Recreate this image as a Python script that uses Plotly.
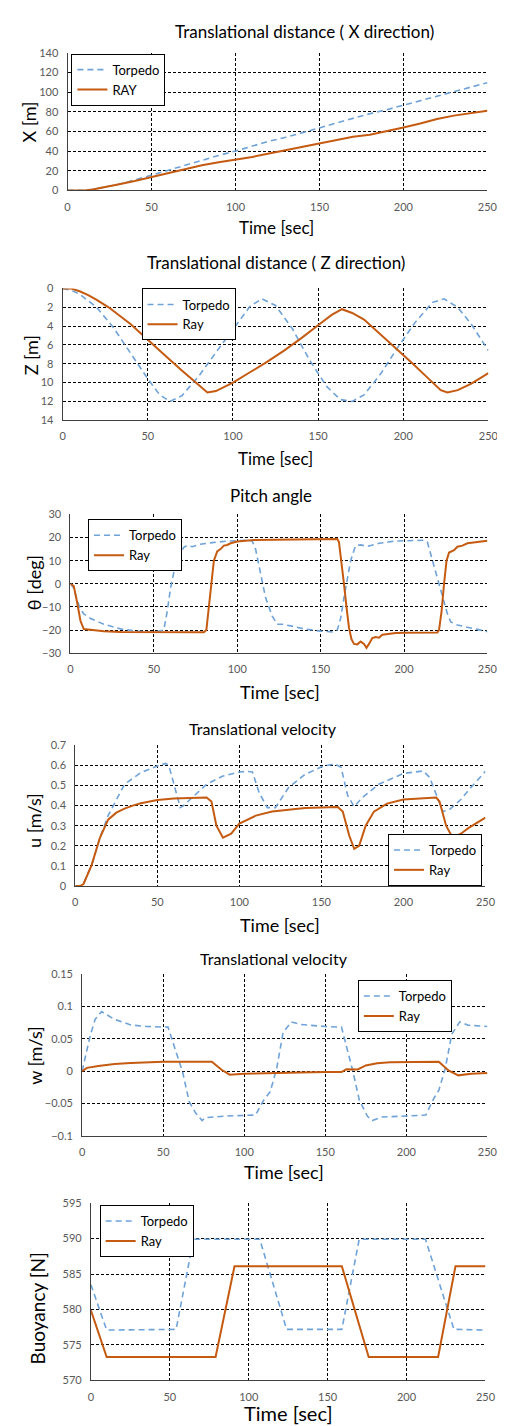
import plotly.graph_objects as go

# ---------------- data ----------------
# Panel 1: Translational distance X
t_x_torp = [0, 10, 15, 20, 30, 40, 50, 60, 70, 80, 90, 100, 110, 120, 130, 140, 150, 160, 170, 180, 190, 200, 210, 220, 230, 240, 250]
x_torp = [0, 0, 1, 2.5, 6, 10.5, 15.5, 21, 26, 31, 35.5, 40, 45, 50, 54, 58.5, 63.5, 68.5, 73.5, 78, 82, 86.5, 91, 96, 100, 104.5, 109.5]
t_x_ray = [0, 10, 15, 20, 30, 40, 50, 60, 70, 80, 90, 100, 110, 120, 130, 140, 150, 160, 170, 180, 190, 200, 210, 220, 230, 240, 250]
x_ray = [0, 0, 1, 2.5, 6, 9.5, 13.5, 17.5, 21.5, 25.5, 28.5, 31, 34, 37.5, 41, 44.5, 48, 51.5, 54.5, 56.5, 60, 64, 68, 72.5, 76, 78.5, 81]

# Panel 2: Translational distance Z
t_z_torp = [0, 5, 10, 20, 30, 40, 50, 57, 63, 70, 80, 90, 100, 110, 117, 125, 135, 145, 155, 163, 170, 177, 187, 197, 207, 217, 224, 232, 240, 250]
z_torp = [0, 0.2, 0.6, 2.0, 4.2, 6.9, 9.6, 11.3, 12.0, 11.4, 9.3, 6.8, 4.3, 1.9, 1.1, 1.8, 4.3, 7.6, 10.4, 11.8, 12.0, 11.3, 9.0, 6.2, 3.6, 1.5, 1.1, 2.0, 3.8, 6.6]
t_z_ray = [0, 5, 10, 15, 20, 27, 40, 50, 60, 70, 80, 85, 90, 100, 110, 120, 130, 140, 150, 158, 164, 170, 177, 185, 195, 205, 215, 222, 226, 232, 240, 250]
z_ray = [0, 0, 0.3, 0.7, 1.2, 2.0, 3.8, 5.5, 7.1, 8.7, 10.3, 11.05, 10.9, 10.0, 8.9, 7.8, 6.6, 5.3, 3.9, 2.8, 2.2, 2.6, 3.3, 4.6, 6.2, 7.9, 9.6, 10.8, 11.05, 10.8, 10.1, 9.0]

# Panel 3: Pitch angle
t_p_torp = [0, 2, 4, 6, 8, 12, 20, 30, 40, 50, 56, 58, 60, 62, 64, 66, 68, 70, 73, 77, 85, 95, 105, 109, 111, 113, 115, 117, 119, 121, 124, 127, 132, 140, 150, 157, 160, 162, 164, 166, 168, 171, 174, 178, 185, 195, 205, 212, 214, 216, 218, 220, 222, 224, 226, 228, 232, 236, 245, 250]
p_torp = [0, -2, -7, -11, -13, -15, -17.5, -19.5, -20.5, -21, -20, -12, -2, 5, 10, 13.5, 15.8, 16.6, 16.0, 17, 17.8, 18.5, 18.8, 18.5, 15, 8, 0, -6, -10, -14, -17.5, -17.5, -18.2, -19.5, -20.5, -20.8, -20, -15, -6, 3, 10, 16.5, 16.8, 16.2, 17.5, 18.5, 18.8, 18.8, 18, 13, 8, 3, -2, -8, -13, -16.5, -17.8, -18.5, -20, -20.7]
t_p_ray = [0, 2, 4, 6, 8, 10, 20, 30, 50, 80, 81.5, 83, 84.5, 86, 88, 90, 92, 94, 96, 100, 110, 130, 160, 161, 162.5, 164, 165.5, 167, 168.5, 170, 172, 174, 176, 177.5, 179, 181, 183, 185, 187, 190, 195, 200, 220, 221, 222.5, 224, 225.5, 227, 230, 232, 235, 238, 242, 246, 250]
p_ray = [0, -1, -8, -16, -19.6, -19.8, -20.5, -20.9, -21, -21, -20, -10, 2, 10, 14, 15, 16.5, 16.8, 17.5, 18.3, 18.9, 19.2, 19.4, 18, 10, 0, -10, -19, -24, -26, -26.2, -25, -26, -27.7, -26, -23.5, -23, -23.3, -22, -21.7, -21.3, -21.2, -21.1, -20, -12, 0, 10, 13.5, 14.5, 16, 16.5, 17.5, 17.8, 18.3, 18.6]

# Panel 4: Translational velocity u
t_u_torp = [0, 3, 5, 10, 15, 20, 30, 40, 50, 55, 57, 60, 64, 66, 70, 80, 90, 100, 105, 108, 112, 117, 122, 130, 140, 150, 158, 162, 166, 170, 175, 185, 200, 212, 216, 220, 224, 228, 235, 240, 250]
u_torp = [0, 0, 0.01, 0.105, 0.24, 0.35, 0.506, 0.564, 0.597, 0.61, 0.6, 0.51, 0.39, 0.4, 0.43, 0.506, 0.547, 0.567, 0.57, 0.567, 0.465, 0.39, 0.39, 0.49, 0.555, 0.593, 0.608, 0.59, 0.45, 0.395, 0.44, 0.506, 0.56, 0.572, 0.54, 0.45, 0.37, 0.38, 0.43, 0.48, 0.57]
t_u_ray = [0, 3, 5, 10, 15, 20, 25, 30, 35, 40, 50, 60, 70, 80, 83, 86, 90, 95, 100, 110, 120, 130, 140, 150, 160, 163, 167, 170, 173, 177, 182, 190, 200, 220, 222, 226, 230, 235, 240, 250]
u_ray = [0, 0, 0.01, 0.105, 0.24, 0.33, 0.365, 0.385, 0.40, 0.412, 0.428, 0.435, 0.438, 0.44, 0.42, 0.30, 0.24, 0.26, 0.31, 0.35, 0.37, 0.38, 0.388, 0.39, 0.393, 0.37, 0.25, 0.185, 0.2, 0.30, 0.37, 0.41, 0.43, 0.44, 0.42, 0.30, 0.24, 0.26, 0.29, 0.34]

# Panel 5: Translational velocity w
t_w_torp = [0, 2, 5, 8, 12, 20, 30, 40, 50, 53, 58, 62, 66, 70, 74, 76, 90, 100, 107, 112, 116, 120, 124, 129, 135, 150, 160, 164, 167, 171, 176, 179, 185, 200, 212, 217, 220, 224, 228, 233, 238, 250]
w_torp = [0, 0.024, 0.055, 0.08, 0.092, 0.08, 0.0714, 0.069, 0.068, 0.068, 0.029, -0.0015, -0.047, -0.065, -0.0765, -0.072, -0.0695, -0.068, -0.068, -0.045, -0.032, 0.004, 0.06, 0.076, 0.072, 0.069, 0.068, 0.029, 0, -0.045, -0.07, -0.0765, -0.071, -0.0695, -0.068, -0.042, -0.03, 0.004, 0.057, 0.0765, 0.071, 0.069]
t_w_ray = [0, 3, 10, 20, 30, 50, 80, 86, 91, 100, 150, 160, 163, 170, 175, 182, 190, 200, 220, 226, 232, 240, 250]
w_ray = [0, 0.005, 0.008, 0.011, 0.0125, 0.0143, 0.0143, 0.002, -0.0056, -0.004, -0.0015, -0.0015, 0.003, 0.0025, 0.0087, 0.012, 0.0135, 0.014, 0.0143, 0.001, -0.0066, -0.004, -0.003]

# Panel 6: Buoyancy
t_b_torp = [0, 10, 54, 65, 107, 124, 159, 170, 212, 230, 250]
b_torp = [583.5, 577.1, 577.2, 589.9, 589.9, 577.2, 577.2, 589.9, 589.9, 577.2, 577.1]
t_b_ray = [0, 10, 79, 91, 159, 176, 220, 231, 250]
b_ray = [579.9, 573.3, 573.3, 586.1, 586.1, 573.3, 573.3, 586.1, 586.1]

time_ticks = [0, 50, 100, 150, 200, 250]

# ---------------- layout helpers ----------------
W, H = 505, 1426
TORP_C = "#6FA3D8"
RAY_C = "#C55A11"
FONT = "Lato"
TICK_C = "#595959"

panels = [
    dict(box=(58, 38, 489, 177), yr=[0, 140], dt=20, data=(t_x_torp, x_torp, t_x_ray, x_ray),
         names=("Torpedo", "RAY"), title="Translational distance ( X direction)", tpos=(301, 17), tsize=17,
         ytitle="X [m]", ypos=(18, 108), ysize=18, xtpos=(273, 214), xtsize=17, leg=(62, 39, "top")),
    dict(box=(53, 276, 490, 409), yr=[14, 0], dt=2, data=(t_z_torp, z_torp, t_z_ray, z_ray),
         names=("Torpedo", "Ray"), title="Translational distance ( Z direction)", tpos=(272, 250), tsize=17,
         ytitle="Z [m]", ypos=(20, 343), ysize=18, xtpos=(271, 448), xtsize=17, leg=(134, 276, "top")),
    dict(box=(61, 504, 489, 644), yr=[-30, 30], dt=10, data=(t_p_torp, p_torp, t_p_ray, p_ray),
         names=("Torpedo", "Ray"), title="Pitch angle", tpos=(267, 485), tsize=17,
         ytitle="θ [deg]", ypos=(23, 573), ysize=18, xtpos=(276, 683), xtsize=18, leg=(79, 509, "top")),
    dict(box=(66, 737, 487, 879), yr=[0, 0.7], dt=0.1, data=(t_u_torp, u_torp, t_u_ray, u_ray),
         names=("Torpedo", "Ray"), title="Translational velocity", tpos=(259, 720), tsize=16,
         ytitle="u [m/s]", ypos=(23, 813), ysize=18, xtpos=(276, 918), xtsize=18, leg=(387, 879, "bottom")),
    dict(box=(73, 968, 489, 1131), yr=[-0.1, 0.15], dt=0.05, data=(t_w_torp, w_torp, t_w_ray, w_ray),
         names=("Torpedo", "Ray"), title="Translational velocity", tpos=(270, 952), tsize=16,
         ytitle="w [m/s]", ypos=(25, 1050), ysize=18, xtpos=(280, 1168), xtsize=18, leg=(356, 974, "top")),
    dict(box=(82, 1199, 487, 1378), yr=[570, 595], dt=5, data=(t_b_torp, b_torp, t_b_ray, b_ray),
         names=("Torpedo", "Ray"), title=None, tpos=None, tsize=16,
         ytitle="Buoyancy [N]", ypos=(27, 1305), ysize=19, xtpos=(285, 1411), xtsize=20, leg=(91, 1201, "top")),
]

fig = go.Figure()
layout = dict(width=W, height=H, margin=dict(l=0, r=0, t=0, b=0),
              paper_bgcolor="white", plot_bgcolor="white",
              font=dict(family=FONT, color="#000"), annotations=[])


def px_x(x):
    return x / W


def px_y(y):
    return 1 - y / H


for i, p in enumerate(panels, start=1):
    x0, y0, x1, y1 = p["box"]
    sx = "" if i == 1 else str(i)
    lg = "legend" if i == 1 else f"legend{i}"
    tt, tv, rt, rv = p["data"]
    fig.add_trace(go.Scatter(x=tt, y=tv, name=p["names"][0], mode="lines",
                             line=dict(color=TORP_C, width=1.6, dash="6px,4px"),
                             xaxis="x" + sx, yaxis="y" + sx, legend=lg))
    fig.add_trace(go.Scatter(x=rt, y=rv, name=p["names"][1], mode="lines",
                             line=dict(color=RAY_C, width=2),
                             xaxis="x" + sx, yaxis="y" + sx, legend=lg))
    common = dict(showgrid=True, gridcolor="#000000", gridwidth=0.8, griddash="3px,2px",
                  zeroline=False, showline=True, linecolor="#404040", linewidth=1,
                  ticks="", tickfont=dict(family=FONT, size=11, color=TICK_C))
    layout["xaxis" + sx] = dict(domain=[px_x(x0), px_x(x1)], range=[0, 250], tickvals=time_ticks,
                                anchor="y" + sx, ticklabelstandoff=6, **common)
    layout["yaxis" + sx] = dict(domain=[px_y(y1), px_y(y0)], range=p["yr"], dtick=p["dt"],
                                tick0=0, anchor="x" + sx, ticklabelstandoff=6, **common)
    lx, ly, lanchor = p["leg"]
    layout[lg] = dict(x=px_x(lx), y=px_y(ly), xanchor="left", yanchor=lanchor,
                      bgcolor="white", bordercolor="#000000", borderwidth=1,
                      font=dict(family=FONT, size=13, color="#000"), itemwidth=30,
                      tracegroupgap=0)
    if p["title"]:
        layout["annotations"].append(dict(text=p["title"], x=px_x(p["tpos"][0]), y=px_y(p["tpos"][1]),
                                          xref="paper", yref="paper", showarrow=False,
                                          xanchor="center", yanchor="middle",
                                          font=dict(family=FONT, size=p["tsize"], color="#000")))
    layout["annotations"].append(dict(text="Time [sec]", x=px_x(p["xtpos"][0]), y=px_y(p["xtpos"][1]),
                                      xref="paper", yref="paper", showarrow=False,
                                      xanchor="center", yanchor="middle",
                                      font=dict(family=FONT, size=p["xtsize"], color="#000")))
    layout["annotations"].append(dict(text=p["ytitle"], x=px_x(p["ypos"][0]), y=px_y(p["ypos"][1]),
                                      xref="paper", yref="paper", showarrow=False, textangle=-90,
                                      xanchor="center", yanchor="middle",
                                      font=dict(family=FONT, size=p["ysize"], color="#000")))

fig.update_layout(**layout)
fig.write_html("out.html")
